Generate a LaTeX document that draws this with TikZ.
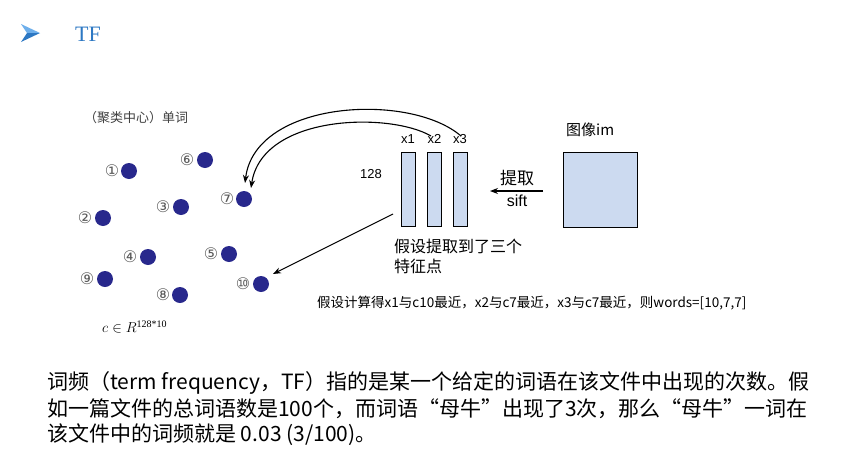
\documentclass[tikz,border=0pt]{standalone}
\usepackage{fontspec}
\setmainfont{Liberation Sans}
\newfontfamily\cjk{Noto Sans CJK SC}
\newfontfamily\dejavu{DejaVu Sans}
\newfontfamily\serifont{Liberation Serif}
\usetikzlibrary{arrows.meta}
\definecolor{dotblue}{RGB}{40,40,140}
\definecolor{barblue}{RGB}{204,218,240}
\definecolor{headblue}{RGB}{45,120,195}
\definecolor{headlight}{RGB}{110,175,235}
\tikzset{
  dotc/.style={circle, fill=dotblue, minimum size=16pt, inner sep=0pt},
  numlab/.style={font=\dejavu\fontsize{16}{16}\selectfont, text=black!65, inner sep=0pt},
  vec/.style={draw=black, fill=barblue, line width=1pt, minimum width=14pt, minimum height=74pt, inner sep=0pt},
  arr/.style={line width=1.1pt, -{Stealth[length=8pt,width=6pt]}},
  small/.style={font=\fontsize{13}{13}\selectfont, inner sep=0pt},
}
\begin{document}
\begin{tikzpicture}[x=1pt,y=-1pt]
\useasboundingbox (0,0) rectangle (849,453);
% heading
\fill[headlight] (40,33) -- (21,24) -- (27,33) -- cycle;
\fill[headblue] (40,33) -- (27,33) -- (21,42) -- cycle;
\node[anchor=west, inner sep=0pt, text=headblue, font=\serifont\fontsize{22}{22}\selectfont] (title) at (75,34) {TF};
% cluster label
\node[anchor=west, inner sep=0pt, text=black!75, font=\cjk\fontsize{13}{13}\selectfont] (clab) at (84,118) {（聚类中心）单词};
% dots
\node[dotc] (d1) at (129,171) {}; \node[numlab] (n1) at (112,171) {①};
\node[dotc] (d6) at (205,160) {}; \node[numlab] (n6) at (187,160) {⑥};
\node[dotc] (d7) at (244,199) {}; \node[numlab] (n7) at (227,199) {⑦};
\node[dotc] (d3) at (181,207) {}; \node[numlab] (n3) at (163,207) {③};
\node[dotc] (d2) at (103,218) {}; \node[numlab] (n2) at (85,218) {②};
\node[dotc] (d4) at (148,257) {}; \node[numlab] (n4) at (130,257) {④};
\node[dotc] (d5) at (229,254) {}; \node[numlab] (n5) at (211,254) {⑤};
\node[dotc] (d9) at (105,279) {}; \node[numlab] (n9) at (87,279) {⑨};
\node[dotc] (d8) at (180,295) {}; \node[numlab] (n8) at (163,295) {⑧};
\node[dotc] (d10) at (261,284) {}; \node[numlab] (n10) at (243,284) {⑩};
\node[anchor=west, inner sep=0pt, font=\fontsize{15}{15}\selectfont] (cR) at (102,327) {$c\in R^{\mbox{\serifont\fontsize{10}{10}\selectfont 128*10}}$};
% feature vectors
\node[vec] (b1) at (408,189) {};
\node[vec] (b2) at (434.5,189) {};
\node[vec] (b3) at (460,189) {};
\node[small] (x1) at (408,139) {x1};
\node[small] (x2) at (434.5,139) {x2};
\node[small] (x3) at (460,139) {x3};
\node[small] (l128) at (371,174) {128};
% image
\node[draw=black, fill=barblue, line width=1pt, minimum width=74pt, minimum height=75pt, inner sep=0pt] (img) at (600,189.5) {};
\node[anchor=west, inner sep=0pt, font=\cjk\fontsize{15}{15}\selectfont] (imlab) at (566,130) {图像im};
% extraction arrow
\node[inner sep=0pt, font=\cjk\fontsize{17}{17}\selectfont] (tq) at (517,178) {提取};
\node[inner sep=0pt, font=\fontsize{16}{16}\selectfont] (sift) at (517,201) {sift};
\coordinate (sa) at (543,191);
\coordinate (sb) at (490,191);
\draw[arr] (sa) -- (sb);
% text under vectors
\node[anchor=north west, inner sep=0pt, align=left, font=\cjk\fontsize{16}{20}\selectfont] (assume) at (394,239) {假设提取到了三个\\特征点};
% curved arrows
\coordinate (c3) at (461,136);
\coordinate (c2) at (431,136);
\coordinate (e1) at (245,183);
\coordinate (e2) at (251,188);
\draw[arr] (c3) .. controls (410,92) and (255,100) .. (e1);
\draw[arr] (c2) .. controls (390,112) and (262,114) .. (e2);
% straight arrow
\coordinate (s1) at (393,214);
\coordinate (e3) at (273,274);
\draw[arr] (s1) -- (e3);
% result
\node[anchor=west, inner sep=0pt, font=\cjk\fontsize{13.5}{13.5}\selectfont] (res) at (317,303) {假设计算得x1与c10最近，x2与c7最近，x3与c7最近，则words=[10,7,7]};
% paragraph
\node[anchor=west, inner sep=0pt, font=\cjk\fontsize{21}{21}\selectfont] (p1) at (47,383) {词频（term frequency，TF）指的是某一个给定的词语在该文件中出现的次数。假};
\node[anchor=west, inner sep=0pt, font=\cjk\fontsize{21}{21}\selectfont] (p2) at (47,409) {如一篇文件的总词语数是100个，而词语“母牛”出现了3次，那么“母牛”一词在};
\node[anchor=west, inner sep=0pt, font=\cjk\fontsize{21}{21}\selectfont] (p3) at (47,435) {该文件中的词频就是 0.03 (3/100)。};
\end{tikzpicture}
\end{document}
